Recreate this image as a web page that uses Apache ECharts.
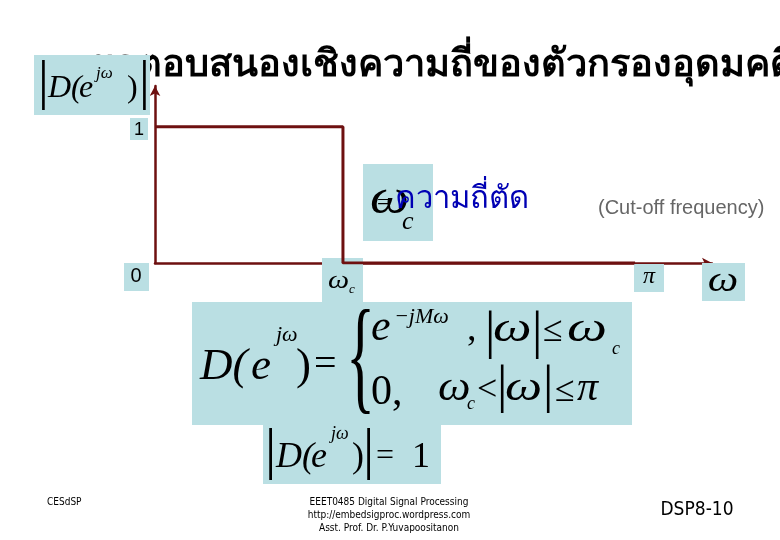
<!DOCTYPE html>
<html>
<head>
<meta charset="utf-8">
<script src="https://cdn.jsdelivr.net/npm/echarts@6/dist/echarts.min.js"></script>
<style>
  html, body { margin: 0; padding: 0; background: #fff; }
  #main { width: 780px; height: 540px; }
</style>
</head>
<body>
<div id="main"></div>
<script>
// ideal lowpass magnitude response, x in rad/sample
var omegaC = 1.23;
var freq = [0, omegaC, omegaC, Math.PI];
var magnitude = [1, 1, 0, 0];
var xMax = 3.645;
var yMax = 1.3;

var titleText = 'ผลตอบสนองเชิงความถี่ของตัวกรองอุดมคติ';
var cutoffThai = 'ความถี่ตัด';
var cutoffEng = '(Cut-off frequency)';
var footLeft = 'CESdSP';
var footMid = ['EEET0485 Digital Signal Processing', 'http://embedsigproc.wordpress.com', 'Asst. Prof. Dr. P.Yuvapoositanon'];
var footRight = 'DSP8-10';

var lineColor = '#6e1010';
var boxColor = '#badfe3';
var serif = '"Liberation Serif", "DejaVu Serif", serif';

var chart = echarts.init(document.getElementById('main'));

var seriesData = [];
for (var i = 0; i < freq.length; i++) {
  seriesData.push([freq[i], magnitude[i]]);
}

function box(x, y, w, h) {
  return { type: 'rect', z: 1, shape: { x: x, y: y, width: w, height: h }, style: { fill: boxColor } };
}
// sx: horizontal stretch (the slide's greek letters are wider than Times ones)
function txt(x, y, s, size, opt) {
  opt = opt || {};
  return {
    type: 'text', z: opt.z || 5,
    x: x, y: y, scaleX: opt.sx || 1,
    style: {
      x: 0, y: 0, text: s,
      font: (opt.italic === false ? '' : 'italic ') + size + 'px ' + (opt.family || serif),
      fill: opt.color || '#000',
      align: opt.align || 'left',
      verticalAlign: opt.va || 'middle'
    }
  };
}

var g = [];
// title, sits behind the label box like on the slide
g.push({ type: 'text', z: 0, style: { x: 92, y: 66, text: titleText, font: 'bold 38px "DejaVu Sans"', fill: '#000', verticalAlign: 'middle' } });

// |D(e^jw)| label on y axis
g.push(box(34, 55, 116, 60));
g.push(txt(38, 84, '|', 54, { italic: false }));
g.push(txt(48, 89, 'D(', 32));
g.push(txt(79, 89, 'e', 32));
g.push(txt(96, 74, 'jω', 17));
g.push(txt(127, 89, ')', 32, { italic: false }));
g.push(txt(139, 84, '|', 54, { italic: false }));

// y tick labels
g.push(box(130, 118, 18, 22));
g.push(txt(139, 130, '1', 18, { italic: false, family: '"Liberation Sans", sans-serif', align: 'center' }));
g.push(box(124, 263, 25, 28));
g.push(txt(136, 276, '0', 20, { italic: false, family: '"Liberation Sans", sans-serif', align: 'center' }));

// x tick labels
g.push(box(322, 258, 41, 44));
g.push(txt(328, 281, 'ω', 26, { sx: 1.15 }));
g.push(txt(349, 290, 'c', 13));
g.push(box(634, 264, 30, 28));
g.push(txt(649, 277, 'π', 24, { align: 'center' }));
g.push(box(702, 263, 43, 38));
g.push(txt(723, 282, 'ω', 36, { align: 'center', sx: 1.2 }));

// cutoff annotation
g.push(box(363, 164, 70, 77));
g.push(txt(370, 200, 'ω', 48, { sx: 1.15 }));
g.push(txt(402, 222, 'c', 26));
g.push(txt(377, 203, '=', 22, { italic: false, z: 6 }));
g.push({ type: 'text', z: 6, style: { x: 395, y: 200, text: cutoffThai, font: '31px "DejaVu Sans"', fill: '#0000b4', verticalAlign: 'middle' } });
g.push({ type: 'text', z: 7, style: { x: 598, y: 208, text: cutoffEng, font: '20px "Liberation Sans", sans-serif', fill: '#666', verticalAlign: 'middle' } });

// piecewise definition
g.push(box(192, 302, 440, 123));
g.push(txt(200, 367, 'D(', 45));
g.push(txt(251, 367, 'e', 45));
g.push(txt(276, 335, 'jω', 22));
g.push(txt(296, 367, ')', 45, { italic: false }));
g.push(txt(314, 365, '=', 40, { italic: false }));
g.push({ type: 'text', z: 5, x: 346, y: 364, scaleX: 0.48, style: { x: 0, y: 0, text: '{', font: '126px ' + serif, fill: '#000', verticalAlign: 'middle' } });
// |w| <= wc row
g.push(txt(371, 328, 'e', 44));
g.push(txt(394, 317, '−jMω', 22));
g.push(txt(467, 330, ',', 38, { italic: false }));
g.push(txt(485, 334, '|', 52, { italic: false }));
g.push(txt(493, 330, 'ω', 42, { sx: 1.3 }));
g.push(txt(532, 334, '|', 52, { italic: false }));
g.push(txt(543, 332, '≤', 36, { italic: false }));
g.push(txt(567, 330, 'ω', 42, { sx: 1.35 }));
g.push(txt(612, 349, 'c', 18));
// wc < |w| <= pi row
g.push(txt(371, 393, '0,', 42, { italic: false }));
g.push(txt(438, 389, 'ω', 42, { sx: 1.1 }));
g.push(txt(467, 404, 'c', 18));
g.push(txt(477, 391, '<', 36, { italic: false }));
g.push(txt(497, 388, '|', 52, { italic: false }));
g.push(txt(505, 389, 'ω', 42, { sx: 1.25 }));
g.push(txt(543, 388, '|', 52, { italic: false }));
g.push(txt(555, 392, '≤', 36, { italic: false }));
g.push(txt(577, 389, 'π', 42));

// |D(e^jw)| = 1
g.push(box(263, 425, 178, 59));
g.push(txt(265, 453, '|', 56, { italic: false }));
g.push(txt(276, 458, 'D(', 36));
g.push(txt(311, 458, 'e', 36));
g.push(txt(331, 434, 'jω', 18));
g.push(txt(352, 458, ')', 36, { italic: false }));
g.push(txt(363, 453, '|', 56, { italic: false }));
g.push(txt(376, 457, '=', 32, { italic: false }));
g.push(txt(412, 458, '1', 36, { italic: false }));

// footer
var footFont = '"Liberation Sans Narrow", "DejaVu Sans Condensed", "Liberation Sans", sans-serif';
g.push({ type: 'text', style: { x: 47, y: 502, text: footLeft, font: '10px ' + footFont, fill: '#000', verticalAlign: 'middle' } });
g.push({ type: 'text', style: { x: 389, y: 515, text: footMid.join('\n'), font: '10px ' + footFont, lineHeight: 13, fill: '#000', align: 'center', verticalAlign: 'middle' } });
g.push({ type: 'text', style: { x: 697, y: 510, text: footRight, font: '19px ' + footFont, fill: '#000', align: 'center', verticalAlign: 'middle' } });

var option = {
  backgroundColor: '#fff',
  animation: false,
  grid: { left: 155, right: 68, top: 86, bottom: 277 },
  xAxis: {
    type: 'value', min: 0, max: xMax,
    axisLine: { show: true, symbol: ['none', 'arrow'], symbolSize: [8, 10], lineStyle: { color: lineColor, width: 2.5 } },
    axisTick: { show: true, customValues: [Math.PI], length: 4, lineStyle: { color: lineColor } },
    axisLabel: { show: false },
    splitLine: { show: false }
  },
  yAxis: {
    type: 'value', min: 0, max: yMax,
    axisLine: { show: true, symbol: ['none', 'arrow'], symbolSize: [8, 10], lineStyle: { color: lineColor, width: 2.5 } },
    axisTick: { show: false },
    axisLabel: { show: false },
    splitLine: { show: false }
  },
  series: [{
    type: 'line',
    data: seriesData,
    symbol: 'none',
    lineStyle: { color: lineColor, width: 3 },
    z: 3
  }],
  graphic: g
};
chart.setOption(option);
</script>
</body>
</html>
